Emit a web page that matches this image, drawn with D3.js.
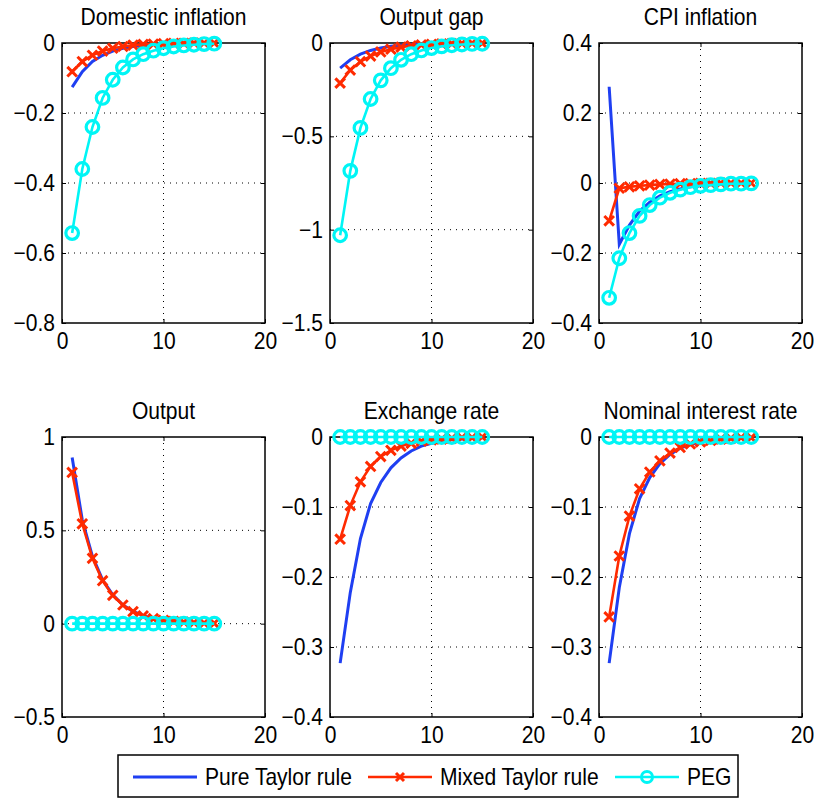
<!DOCTYPE html>
<html>
<head>
<meta charset="utf-8">
<script src="https://cdn.jsdelivr.net/npm/d3@7"></script>
<style>
  body { margin: 0; background: #fff; }
  svg text { font-family: "Liberation Sans", Arial, sans-serif; fill: #000; }
</style>
</head>
<body>
<div id="chart"></div>
<script>
// periodos 1..15
const periods = d3.range(1, 16)

const seriesNames = ["Pure Taylor rule", "Mixed Taylor rule", "PEG"]

// Domestic inflation
const domPure  = [-0.126, -0.082, -0.053, -0.035, -0.023, -0.015, -0.010, -0.006, -0.004, -0.003, -0.002, -0.001, -0.001, 0, 0]
const domMixed = [-0.082, -0.053, -0.035, -0.023, -0.015, -0.010, -0.006, -0.004, -0.003, -0.002, -0.001, -0.001, 0, 0, 0]
const domPeg   = [-0.543, -0.36, -0.24, -0.157, -0.105, -0.07, -0.047, -0.032, -0.022, -0.015, -0.01, -0.007, -0.005, -0.003, -0.002]

// Output gap
const gapPure  = [-0.135, -0.09, -0.06, -0.04, -0.027, -0.018, -0.012, -0.008, -0.005, -0.004, -0.002, -0.002, -0.001, -0.001, 0]
const gapMixed = [-0.215, -0.145, -0.10, -0.07, -0.048, -0.033, -0.022, -0.015, -0.01, -0.007, -0.005, -0.003, -0.002, -0.001, -0.001]
const gapPeg   = [-1.03, -0.685, -0.455, -0.30, -0.20, -0.135, -0.09, -0.06, -0.04, -0.027, -0.018, -0.012, -0.008, -0.005, -0.004]

// CPI inflation
const cpiPure  = [0.275, -0.175, -0.12, -0.08, -0.055, -0.037, -0.025, -0.017, -0.011, -0.008, -0.005, -0.003, -0.002, -0.0015, -0.001]
const cpiMixed = [-0.108, -0.015, -0.011, -0.008, -0.006, -0.004, -0.003, -0.002, -0.0015, -0.001, -0.001, 0, 0, 0, 0]
const cpiPeg   = [-0.328, -0.215, -0.143, -0.094, -0.063, -0.042, -0.028, -0.019, -0.012, -0.008, -0.006, -0.004, -0.002, -0.002, -0.001]

// Output
const outPure  = [0.89, 0.555, 0.36, 0.235, 0.155, 0.10, 0.066, 0.043, 0.028, 0.018, 0.012, 0.008, 0.005, 0.003, 0.002]
const outMixed = [0.81, 0.535, 0.35, 0.23, 0.152, 0.10, 0.065, 0.042, 0.027, 0.018, 0.012, 0.008, 0.005, 0.003, 0.002]
const outPeg   = [0, 0, 0, 0, 0, 0, 0, 0, 0, 0, 0, 0, 0, 0, 0]

// Exchange rate
const fxPure  = [-0.323, -0.222, -0.145, -0.095, -0.065, -0.044, -0.03, -0.02, -0.013, -0.009, -0.006, -0.004, -0.003, -0.002, -0.001]
const fxMixed = [-0.146, -0.098, -0.064, -0.042, -0.028, -0.019, -0.013, -0.009, -0.006, -0.004, -0.003, -0.002, -0.001, -0.001, 0]
const fxPeg   = [0, 0, 0, 0, 0, 0, 0, 0, 0, 0, 0, 0, 0, 0, 0]

// Nominal interest rate
const irPure  = [-0.323, -0.215, -0.138, -0.088, -0.058, -0.038, -0.025, -0.016, -0.011, -0.007, -0.005, -0.003, -0.002, -0.001, -0.001]
const irMixed = [-0.257, -0.17, -0.113, -0.074, -0.05, -0.034, -0.023, -0.015, -0.01, -0.007, -0.005, -0.003, -0.002, -0.001, -0.001]
const irPeg   = [0, 0, 0, 0, 0, 0, 0, 0, 0, 0, 0, 0, 0, 0, 0]

const xDomain = [0, 20]
const xTicks = [0, 10, 20]

const panels = [
  { title: "Domestic inflation", domain: [-0.8, 0], ticks: [-0.8, -0.6, -0.4, -0.2, 0], series: [domPure, domMixed, domPeg] },
  { title: "Output gap", domain: [-1.5, 0], ticks: [-1.5, -1, -0.5, 0], series: [gapPure, gapMixed, gapPeg] },
  { title: "CPI inflation", domain: [-0.4, 0.4], ticks: [-0.4, -0.2, 0, 0.2, 0.4], series: [cpiPure, cpiMixed, cpiPeg] },
  { title: "Output", domain: [-0.5, 1], ticks: [-0.5, 0, 0.5, 1], series: [outPure, outMixed, outPeg] },
  { title: "Exchange rate", domain: [-0.4, 0], ticks: [-0.4, -0.3, -0.2, -0.1, 0], series: [fxPure, fxMixed, fxPeg] },
  { title: "Nominal interest rate", domain: [-0.4, 0], ticks: [-0.4, -0.3, -0.2, -0.1, 0], series: [irPure, irMixed, irPeg] }
]

const width = 814, height = 799
const colLeft = [62, 330, 599]
const rowTop = [43, 437]
const pw = 203, ph = 280

const colors = ["#1f3ff2", "#ff2a00", "#00f5f5"]
const fmt = d3.format("~g")
const fontSize = 23
const squeeze = 0.915 // letra algo estrecha, como en el original

const svg = d3.select("#chart").append("svg")
    .attr("width", width)
    .attr("height", height)

const xMark = (cx, cy, s) => `M${cx - s},${cy - s}L${cx + s},${cy + s}M${cx - s},${cy + s}L${cx + s},${cy - s}`

// texto con escala horizontal
function label(parent, x, y, str, anchor = "start") {
    return parent.append("text")
        .attr("transform", `translate(${x},${y}) scale(${squeeze},1)`)
        .attr("text-anchor", anchor)
        .attr("font-size", fontSize)
        .text(str)
}

panels.forEach((p, i) => {
    const g = svg.append("g")
        .attr("transform", `translate(${colLeft[i % 3]},${rowTop[Math.floor(i / 3)]})`)

    const x = d3.scaleLinear().domain(xDomain).range([0, pw])
    const y = d3.scaleLinear().domain(p.domain).range([ph, 0])

    // grid punteado
    const grid = g.append("g")
        .attr("stroke", "#000")
        .attr("stroke-width", 1)
        .attr("stroke-dasharray", "1,5")
    grid.selectAll("line.gx")
        .data(xTicks.slice(1, -1))
        .join("line")
        .attr("x1", d => x(d)).attr("x2", d => x(d))
        .attr("y1", 0).attr("y2", ph)
    grid.selectAll("line.gy")
        .data(p.ticks.slice(1, -1))
        .join("line")
        .attr("x1", 0).attr("x2", pw)
        .attr("y1", d => y(d)).attr("y2", d => y(d))

    // ejes con ticks hacia dentro
    const axB = g.append("g").attr("transform", `translate(0,${ph})`)
        .call(d3.axisBottom(x).tickValues(xTicks).tickSizeInner(-4).tickSizeOuter(0).tickPadding(10).tickFormat(fmt))
    const axL = g.append("g")
        .call(d3.axisLeft(y).tickValues(p.ticks).tickSizeInner(-4).tickSizeOuter(0).tickPadding(7).tickFormat(fmt))
    const axT = g.append("g")
        .call(d3.axisTop(x).tickValues(xTicks).tickSizeInner(-4).tickSizeOuter(0).tickFormat(""))
    const axR = g.append("g").attr("transform", `translate(${pw},0)`)
        .call(d3.axisRight(y).tickValues(p.ticks).tickSizeInner(-4).tickSizeOuter(0).tickFormat(""))
    ;[axB, axL, axT, axR].forEach(a => {
        a.select(".domain").remove()
        a.selectAll("line").attr("stroke", "#000").attr("stroke-width", 1)
        a.selectAll("text").attr("font-size", fontSize).attr("fill", "#000")
            .attr("font-family", "Liberation Sans, Arial, sans-serif")
            .attr("transform", `scale(${squeeze},1)`)
    })
    axL.selectAll("text").attr("x", -7 / squeeze)

    g.append("rect")
        .attr("width", pw).attr("height", ph)
        .attr("fill", "none")
        .attr("stroke", "#000")
        .attr("stroke-width", 1.5)

    label(g, pw / 2, -18, p.title, "middle")

    const line = d3.line().x((d, k) => x(periods[k])).y(d => y(d))

    // Pure Taylor (sin marcadores)
    g.append("path").datum(p.series[0])
        .attr("d", line)
        .attr("fill", "none")
        .attr("stroke", colors[0])
        .attr("stroke-width", 3)

    // Mixed Taylor (cruces)
    g.append("path").datum(p.series[1])
        .attr("d", line)
        .attr("fill", "none")
        .attr("stroke", colors[1])
        .attr("stroke-width", 2.6)
    g.append("g").selectAll("path")
        .data(p.series[1])
        .join("path")
        .attr("d", (d, k) => xMark(x(periods[k]), y(d), 4.8))
        .attr("stroke", colors[1])
        .attr("stroke-width", 3)
        .attr("fill", "none")

    // PEG (círculos)
    g.append("path").datum(p.series[2])
        .attr("d", line)
        .attr("fill", "none")
        .attr("stroke", colors[2])
        .attr("stroke-width", 2.6)
    g.append("g").selectAll("circle")
        .data(p.series[2])
        .join("circle")
        .attr("cx", (d, k) => x(periods[k]))
        .attr("cy", d => y(d))
        .attr("r", 6.3)
        .attr("fill", "none")
        .attr("stroke", colors[2])
        .attr("stroke-width", 3.2)
})

// Leyenda
const legend = svg.append("g")
legend.append("rect")
    .attr("x", 118).attr("y", 755)
    .attr("width", 620).attr("height", 42)
    .attr("fill", "#fff")
    .attr("stroke", "#000")
    .attr("stroke-width", 1.5)

const legendItems = [
    { x0: 133, tx: 205 },
    { x0: 368, tx: 440 },
    { x0: 615, tx: 687 }
]
const ly = 777
legendItems.forEach((it, i) => {
    legend.append("line")
        .attr("x1", it.x0).attr("x2", it.x0 + 64)
        .attr("y1", ly).attr("y2", ly)
        .attr("stroke", colors[i])
        .attr("stroke-width", i === 0 ? 3 : 2.6)
    if (i === 1) {
        legend.append("path")
            .attr("d", xMark(it.x0 + 32, ly, 4))
            .attr("stroke", colors[1])
            .attr("stroke-width", 3)
    }
    if (i === 2) {
        legend.append("circle")
            .attr("cx", it.x0 + 32).attr("cy", ly).attr("r", 5.5)
            .attr("fill", "none")
            .attr("stroke", colors[2])
            .attr("stroke-width", 3)
    }
    label(legend, it.tx, ly + 8, seriesNames[i])
})
</script>
</body>
</html>
